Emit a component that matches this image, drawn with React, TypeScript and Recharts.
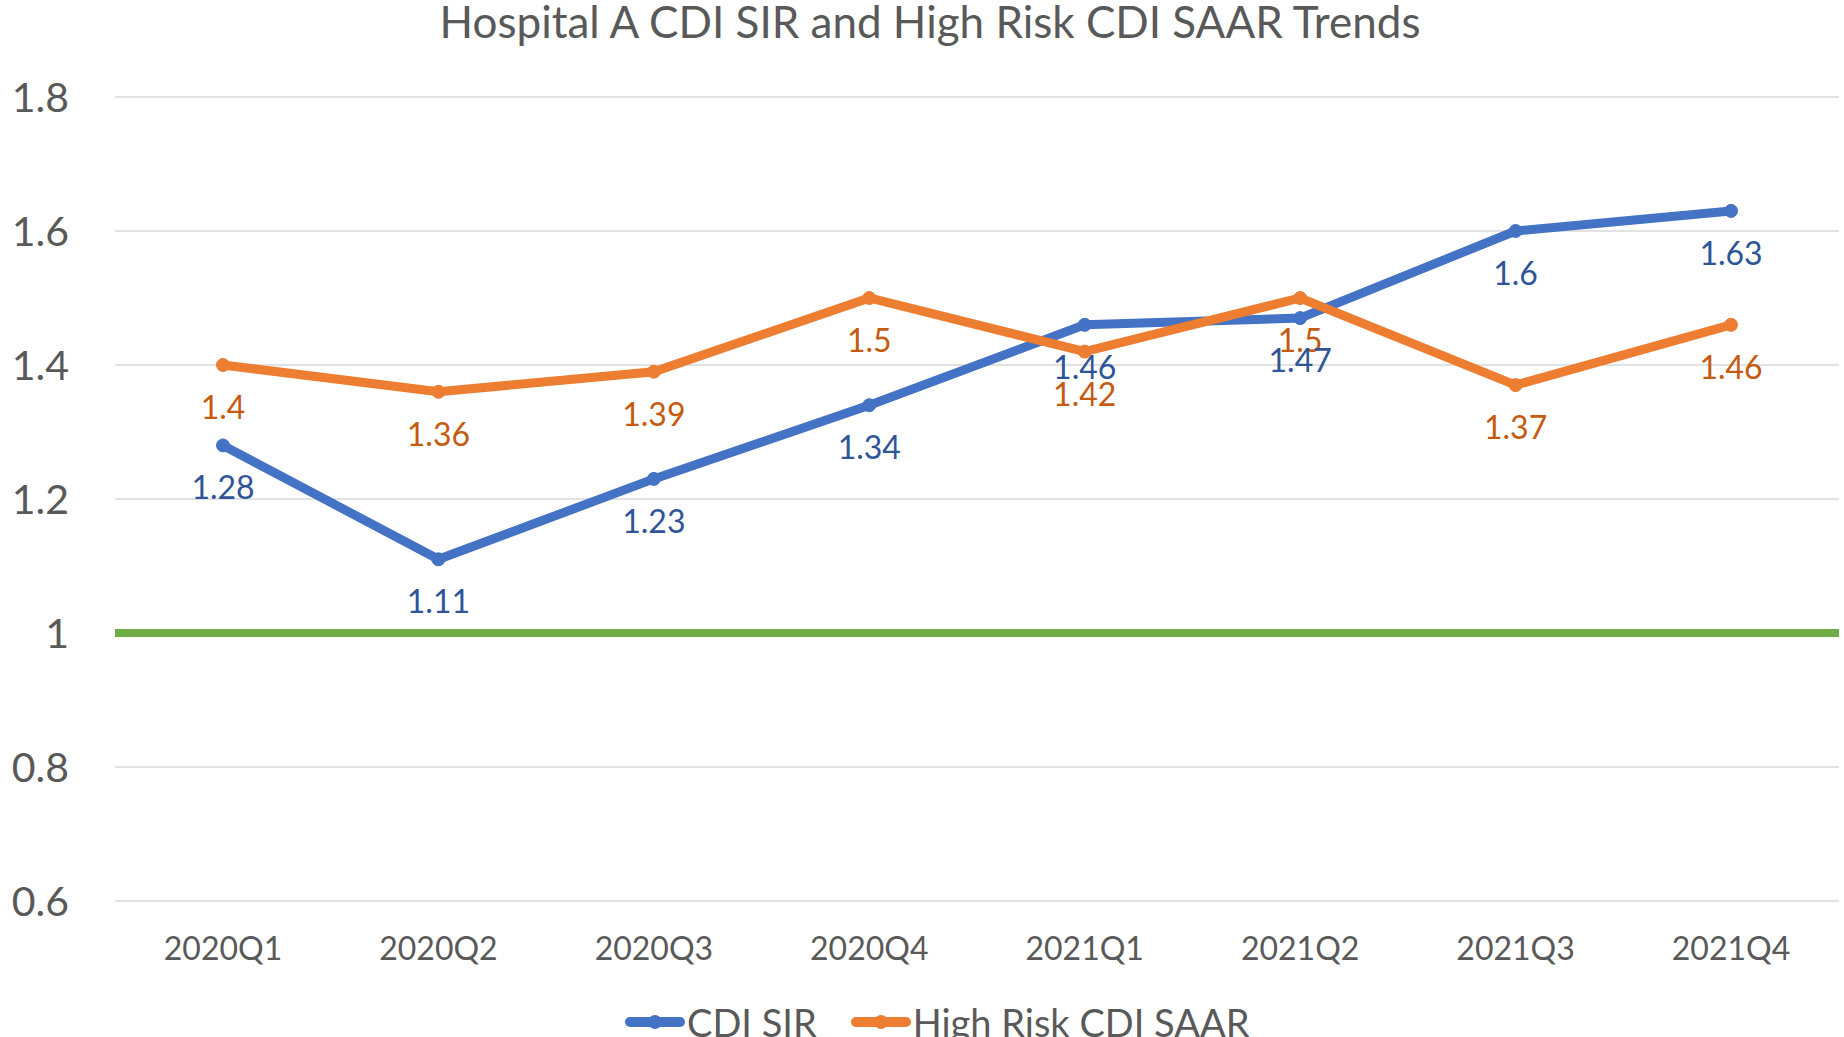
import { LineChart, Line, XAxis, YAxis, CartesianGrid, ReferenceLine, LabelList, Legend } from "recharts";

const quarters = ["2020Q1", "2020Q2", "2020Q3", "2020Q4", "2021Q1", "2021Q2", "2021Q3", "2021Q4"];
const cdiSir = [1.28, 1.11, 1.23, 1.34, 1.46, 1.47, 1.6, 1.63];
const highRiskSaar = [1.4, 1.36, 1.39, 1.5, 1.42, 1.5, 1.37, 1.46];
const yTicks = [0.6, 0.8, 1, 1.2, 1.4, 1.6, 1.8];
const baseline = 1;

const BLUE = "#4472C4";
const ORANGE = "#ED7D31";
const FONT = "Lato, 'Open Sans', sans-serif";
const GREY = "#595959";

const data = quarters.map((q, i) => ({ q, sir: cdiSir[i], saar: highRiskSaar[i] }));

const series = [
  { key: "sir", name: "CDI SIR", color: BLUE, labelColor: "#2F5597" },
  { key: "saar", name: "High Risk CDI SAAR", color: ORANGE, labelColor: "#C55A11" },
];

function makeLabel(color: string) {
  return (props: any) => {
    const x = props.x ?? props.viewBox?.x;
    const y = props.y ?? props.viewBox?.y;
    return (
      <text x={x} y={y + 54} textAnchor="middle" fill={color} fontSize={32} fontFamily={FONT}>
        {props.value}
      </text>
    );
  };
}

const XTick = (props: any) => (
  <text x={props.x} y={props.y} textAnchor="middle" fill={GREY} fontSize={32} fontFamily={FONT}>
    {props.payload.value}
  </text>
);

const YTick = (props: any) => (
  <text x={props.x} y={props.y} dy="0.36em" textAnchor="end" fill={GREY} fontSize={41} fontFamily={FONT}>
    {props.payload.value}
  </text>
);

const LegendBox = () => (
  <div style={{ height: 30, display: "flex", alignItems: "center", paddingLeft: 625, fontFamily: FONT }}>
    {series.map((s) => (
      <div key={s.key} style={{ display: "flex", alignItems: "center", marginRight: 34 }}>
        <svg width={60} height={20}>
          <line x1={5} x2={55} y1={10} y2={10} stroke={s.color} strokeWidth={10} strokeLinecap="round" />
          <circle cx={30} cy={10} r={7} fill={s.color} />
        </svg>
        <span style={{ fontSize: 38, color: GREY, lineHeight: "30px", marginLeft: 2 }}>{s.name}</span>
      </div>
    ))}
  </div>
);

export default function App() {
  return (
    <div style={{ position: "absolute", left: 0, top: 0, width: 1844, height: 1037, background: "#fff" }}>
      <div
        style={{
          position: "absolute",
          top: -1,
          left: 0,
          width: 1860,
          textAlign: "center",
          fontFamily: FONT,
          fontSize: 44,
          lineHeight: 1,
          color: GREY,
          zIndex: 2,
        }}
      >
        Hospital A CDI SIR and High Risk CDI SAAR Trends
      </div>
      <LineChart width={1844} height={1037} data={data} margin={{ top: 97, right: 5, left: 0, bottom: 0 }}>
        <CartesianGrid vertical={false} stroke="#D9D9D9" strokeWidth={1.5} />
        <XAxis
          dataKey="q"
          scale="point"
          padding={{ left: 108, right: 108 }}
          axisLine={false}
          tickLine={false}
          tickSize={0}
          tickMargin={59}
          height={106}
          tick={<XTick />}
        />
        <YAxis
          type="number"
          domain={[0.6, 1.8]}
          ticks={yTicks}
          interval={0}
          width={115}
          axisLine={false}
          tickLine={false}
          tickSize={0}
          tickMargin={46}
          tick={<YTick />}
        />
        <ReferenceLine y={baseline} stroke="#70AD47" strokeWidth={8} />
        {series.map((s) => (
          <Line
            key={s.key}
            dataKey={s.key}
            name={s.name}
            stroke={s.color}
            strokeWidth={9}
            dot={{ r: 6.5, fill: s.color, stroke: s.color, strokeWidth: 1 }}
            activeDot={false}
            isAnimationActive={false}
          />
        ))}
        {[...series].reverse().map((s) => (
          <Line
            key={s.key + "-labels"}
            dataKey={s.key}
            stroke="none"
            dot={false}
            activeDot={false}
            legendType="none"
            isAnimationActive={false}
          >
            <LabelList dataKey={s.key} content={makeLabel(s.labelColor)} />
          </Line>
        ))}
        <Legend verticalAlign="bottom" content={<LegendBox />} />
      </LineChart>
    </div>
  );
}
